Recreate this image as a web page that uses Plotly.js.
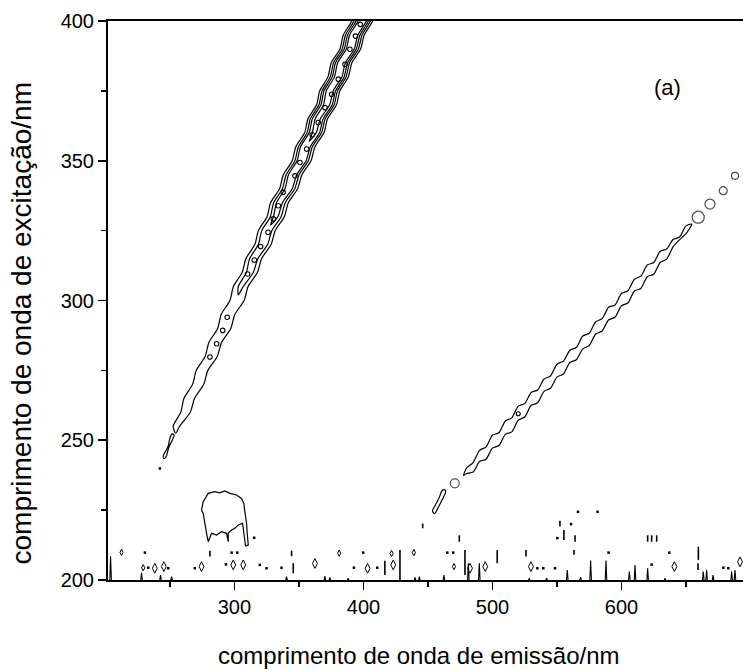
<!DOCTYPE html>
<html><head><meta charset="utf-8">
<script src="https://cdn.plot.ly/plotly-3.0.1.min.js"></script>
<style>html,body{margin:0;padding:0;background:#fff}</style>
</head><body>
<div id="chart" style="width:743px;height:670px"></div>
<script>
// ---------- Band 1: first-order scatter ridge (nested contour levels) ----------
const band1Y      = [255,260,265,270,275,280,285,290,295,300,305,310,315,320,325,330,335,340,345,350,355,360,365,370,375,380,385,390,395,400,405];
const band1Center = [256,261,266,271,276,281,286,291,296,301,306,311,316,321,326,331,336,341,346,351,356,361,365.6,370.3,374.9,379.5,384.1,388.8,393.4,398,402.6];
const band1Wave   = [-1.0,1.1,-1.0,0.9,-1.1,1.0,-0.9,1.1,-1.0,1.0,-1.1,0.9,-1.0,1.1,-0.9,1.0,-1.1,1.0,-0.9,1.1,-1.0,0.9,-1.0,1.1,-1.0,0.9,-1.1,1.0,-0.9,1.0,-1.0];
const band1HalfL1 = [2.5,3.7,4.1,4.3,4.5,4.7,4.9,5.1,5.3,5.5,5.7,5.9,6.1,6.3,6.5,6.7,6.9,7.0,7.2,7.3,7.4,7.5,7.6,7.7,7.8,7.9,8.0,8.0,8.1,8.1,8.1];
const band1HalfL2 = [null,null,null,null,null,null,null,null,null,null,1.9,2.7,3.2,3.6,3.9,4.2,4.5,4.8,5.0,5.2,5.4,5.6,5.8,5.9,6.0,6.1,6.2,6.3,6.4,6.4,6.4];
const band1HalfL3 = [null,null,null,null,null,null,null,null,null,null,null,null,null,null,null,1.7,2.3,2.8,3.2,3.5,3.8,4.0,4.2,4.4,4.5,4.6,4.7,4.7,4.8,4.8,4.8];
const band1HalfL4 = [null,null,null,null,null,null,null,null,null,null,null,null,null,null,null,null,null,null,null,null,null,1.5,2.0,2.4,2.7,2.9,3.0,3.1,3.2,3.2,3.2];
const band1TipX   = [254.5, 303, 328, 358];
const band1TipY   = [252.5, 302, 327, 357];
const band1EllX   = [281.0,286.2,290.9,294.4,310.2,315.4,320.3,326.0,330.1,334.0,337.8,346.9,350.8,356.0,360.3,365.0,370.2,375.3,380.5,385.7,389.5,393.8,397.5];
const band1EllY   = [279.8,284.5,289.3,294.0,309.5,314.5,319.3,324.4,329.2,333.9,338.7,344.6,349.4,354.2,359.3,363.7,369.0,373.8,379.2,384.5,389.9,394.6,398.8];
const band1LoopX  = [245.2,246.8,248.6,249.6,251.8,253.2,251.5,249.8,248.8,247.3,245.0,245.2];
const band1LoopY  = [243.5,243.9,246.6,248.0,250.0,251.9,252.3,250.4,248.1,246.6,244.6,243.5];
const band1DotX   = [242.2];
const band1DotY   = [239.9];

// ---------- Band 2: second-order scatter ridge ----------
const band2X      = [480,485,490,495,500,505,510,515,520,525,530,535,540,545,550,555,560,565,570,575,580,585,590,595,600,605,610,615,620,625,630,635,640,645,650];
const band2Center = [238.5,241.1,243.6,246.1,248.7,251.2,253.8,256.3,258.9,261.4,264.0,266.5,269.0,271.6,274.1,276.7,279.2,281.8,284.3,286.9,289.4,292.0,294.5,297.0,299.6,302.1,304.7,307.2,309.8,312.3,314.9,317.4,320.0,322.5,325.0];
const band2Half   = [1.0,1.7,2.0,2.2,2.3,2.3,2.4,2.5,2.5,2.4,2.3,2.3,2.2,2.2,2.3,2.3,2.2,2.2,2.3,2.2,2.2,2.2,2.3,2.2,2.2,2.2,2.1,2.2,2.1,2.1,2.0,1.8,1.3,0.5,1.4];
const band2Wave   = [0.6,-0.8,0.8,-0.7,0.8,-0.8,0.7,-0.8,0.8,-0.7,0.8,-0.8,0.7,-0.8,0.8,-0.7,0.8,-0.8,0.7,-0.8,0.8,-0.7,0.8,-0.8,0.7,-0.8,0.8,-0.7,0.8,-0.8,0.7,-0.8,0.5,-0.3,0.3];
const band2TipX   = [477.6, 654.5];
const band2TipY   = [237.4, 327.3];
const band2CircX  = [470.8, 659.5, 668.6, 678.9, 688.0];
const band2CircY  = [234.6, 329.8, 334.5, 339.3, 344.6];
const band2InnerX = [520.0];
const band2InnerY = [259.5];
const dropX       = [453.6,455.2,458.2,461.5,463.6,463.0,461.0,458.8,456.0,453.8,453.6];
const dropY       = [224.4,223.8,226.2,229.2,231.3,232.3,232.0,229.6,227.0,225.2,224.4];

// ---------- Blob near (290, 222) ----------
const blobX = [274.5,275.8,279.7,284.8,288.7,292.6,296.5,301.6,305.5,307.3,308.1,309.4,309.9,310.7,308.6,307.6,306.3,303.0,300.4,297.8,295.2,295.2,293.9,290.0,286.1,282.3,280.5,279.7,278.4,277.1,275.8,274.5];
const blobY = [225.0,228.0,231.0,231.6,231.2,231.9,231.0,230.4,229.2,227.4,224.4,220.3,216.7,212.5,212.2,216.1,220.3,219.7,218.5,217.9,216.7,213.7,216.7,217.3,216.1,216.7,214.9,213.7,216.7,220.3,223.8,225.0];

// ---------- Noise near the excitation floor ----------
const noiseTallX  = [238.3,245.3,274.5,299.1,306.8,362.4,403.2,423.1,482.6,494.4,529.8,641.0,691.9];
const noiseTallY  = [204.2,204.8,204.8,205.4,205.4,205.9,204.2,205.4,204.2,204.8,204.8,204.8,206.5];
const noiseSmallX = [212.5,229.3,381.2,421.8,439.1,470.2];
const noiseSmallY = [209.9,204.4,209.6,209.5,209.8,204.8];
const noiseDotX   = [230.6,233.2,248.7,269.3,297.8,302.2,293.4,315.3,319.7,324.9,336.5,392.6,399.8,410.7,465.0,469.6,534.8,539.4,548.5,560.9,566.3,581.5,550.3,590.0,623.4,637.1,679.0,682.8];
const noiseDotY   = [209.8,204.4,204.2,204.2,209.8,209.8,205.6,215.1,205.4,204.2,204.4,204.4,209.8,204.4,209.8,209.8,204.2,204.2,204.2,220.0,224.4,224.4,215.0,209.8,205.5,209.8,204.4,204.2];
const dashX       = [281.0,344.3,345.6,416.6,428.3,445.9,474.3,478.7,503.7,526.0,552.3,555.4,564.0,563.2,620.3,623.4,627.3,659.6,659.3];
const dashLow     = [208.4,208.5,202.4,201.8,200.0,218.5,213.7,201.8,206.0,208.4,219.1,214.3,213.7,209.0,213.7,213.7,213.7,207.2,203.6];
const dashHigh    = [210.5,210.5,206.0,206.9,210.7,220.2,216.0,210.7,210.7,210.7,221.2,217.9,216.0,210.7,216.0,216.0,216.0,211.9,206.0];
const spikeX      = [204.0,228.0,242.7,251.3,340.4,370.1,374.0,388.2,440.0,443.3,462.4,481.3,489.8,528.5,542.0,558.0,568.3,576.1,588.0,606.1,610.5,620.3,633.7,663.4,666.0,671.0,685.4,688.0];
const spikeH      = [8.5,2.6,1.8,1.2,1.2,1.4,0.9,0.6,0.9,1.2,1.8,6.0,6.0,0.6,0.6,3.6,1.0,7.0,7.0,3.0,5.4,4.2,0.6,3.0,3.6,1.8,3.0,3.6];

// ---------- build traces ----------
const LINE = {color:'#000', width:1.2, shape:'spline', smoothing:0.7};
const traces = [];

function band1Level(half, tipX, tipY) {
  const xs = [], ys = [];
  for (let i = band1Y.length - 1; i >= 0; i--) {
    if (half[i] == null) continue;
    xs.push(band1Center[i] - half[i] + band1Wave[i]); ys.push(band1Y[i]);
  }
  xs.push(tipX); ys.push(tipY);
  for (let i = 0; i < band1Y.length; i++) {
    if (half[i] == null) continue;
    xs.push(band1Center[i] + half[i] + band1Wave[i]); ys.push(band1Y[i]);
  }
  return {type:'scatter', mode:'lines', x:xs, y:ys, line:LINE, hoverinfo:'skip'};
}
[band1HalfL1, band1HalfL2, band1HalfL3, band1HalfL4].forEach((h, k) =>
  traces.push(band1Level(h, band1TipX[k], band1TipY[k])));

traces.push({type:'scatter', mode:'markers', x:band1EllX, y:band1EllY,
  marker:{symbol:'circle-open', size:4.5, color:'#000', line:{width:1.1}}});
traces.push({type:'scatter', mode:'lines', x:band1LoopX, y:band1LoopY, line:LINE});
traces.push({type:'scatter', mode:'markers', x:band1DotX, y:band1DotY,
  marker:{symbol:'square', size:2.5, color:'#000'}});

// band 2 closed contour
(function(){
  const xs = [band2TipX[0]], ys = [band2TipY[0]];
  for (let i = 0; i < band2X.length; i++) { xs.push(band2X[i]); ys.push(band2Center[i] - band2Half[i] + band2Wave[i]); }
  xs.push(band2TipX[1]); ys.push(band2TipY[1]);
  for (let i = band2X.length - 1; i >= 0; i--) { xs.push(band2X[i]); ys.push(band2Center[i] + band2Half[i] + band2Wave[i]); }
  xs.push(band2TipX[0]); ys.push(band2TipY[0]);
  traces.push({type:'scatter', mode:'lines', x:xs, y:ys, line:LINE});
})();
traces.push({type:'scatter', mode:'markers', x:band2CircX, y:band2CircY,
  marker:{symbol:'circle-open', size:[9,12,10,8,7], color:'#000', line:{width:1.2}}});
traces.push({type:'scatter', mode:'markers', x:band2InnerX, y:band2InnerY,
  marker:{symbol:'circle-open', size:4, color:'#000', line:{width:1.1}}});
traces.push({type:'scatter', mode:'lines', x:dropX, y:dropY, line:LINE});

// blob
traces.push({type:'scatter', mode:'lines', x:blobX, y:blobY, line:{color:'#000', width:1.2}});

// noise
traces.push({type:'scatter', mode:'markers', x:noiseTallX, y:noiseTallY,
  marker:{symbol:'diamond-tall-open', size:7, color:'#000', line:{width:1}}});
traces.push({type:'scatter', mode:'markers', x:noiseSmallX, y:noiseSmallY,
  marker:{symbol:'diamond-tall-open', size:4.5, color:'#000', line:{width:1}}});
traces.push({type:'scatter', mode:'markers', x:noiseDotX, y:noiseDotY,
  marker:{symbol:'square', size:2.5, color:'#000'}});
(function(){
  const xs = [], ys = [];
  dashX.forEach((x, i) => { xs.push(x, x, null); ys.push(dashLow[i], dashHigh[i], null); });
  traces.push({type:'scatter', mode:'lines', x:xs, y:ys, line:{color:'#000', width:1.6}});
  const sx = [], sy = [];
  spikeX.forEach((x, i) => { sx.push(x - 0.6, x, x + 0.6, null); sy.push(200, 200 + spikeH[i], 200, null); });
  traces.push({type:'scatter', mode:'lines', x:sx, y:sy, line:{color:'#000', width:1.1}});
})();

const FONT = 'Liberation Sans, Arial, Helvetica, sans-serif';
const layout = {
  width:743, height:670,
  margin:{l:108, r:0, t:21, b:90},
  paper_bgcolor:'#fff', plot_bgcolor:'#fff',
  showlegend:false,
  font:{family:FONT, color:'#000'},
  xaxis:{
    range:[202, 694.2], showgrid:false, zeroline:false,
    showline:true, linecolor:'#000', linewidth:2, mirror:true,
    ticks:'outside', ticklen:8, tickwidth:1.6, tickcolor:'#000',
    tickmode:'linear', tick0:200, dtick:100,
    minor:{ticks:'outside', dtick:50, tick0:200, ticklen:5, tickwidth:1.6, tickcolor:'#000', showgrid:false},
    tickfont:{family:FONT, size:20, color:'#000'}
  },
  yaxis:{
    range:[200, 400], showgrid:false, zeroline:false,
    showline:true, linecolor:'#000', linewidth:2, mirror:false,
    ticks:'outside', ticklen:8, tickwidth:1.6, tickcolor:'#000',
    tickmode:'linear', tick0:200, dtick:50,
    minor:{ticks:'outside', dtick:25, tick0:200, ticklen:5, tickwidth:1.6, tickcolor:'#000', showgrid:false},
    tickfont:{family:FONT, size:20, color:'#000'}
  },
  annotations:[
    {text:'(a)', xref:'paper', yref:'paper', x:0.881, y:0.881, xanchor:'center', yanchor:'middle', showarrow:false,
     font:{family:FONT, size:22, color:'#000'}},
    {text:'comprimento de onda de emissão/nm', xref:'paper', yref:'paper', x:0.49, y:-0.135,
     xanchor:'center', yanchor:'middle', showarrow:false, font:{family:FONT, size:24, color:'#000'}},
    {text:'comprimento de onda de excitação/nm', xref:'paper', yref:'paper', x:-0.136, y:0.46,
     xanchor:'center', yanchor:'middle', textangle:-90, showarrow:false, font:{family:FONT, size:28, color:'#000'}}
  ]
};
Plotly.newPlot('chart', traces, layout, {staticPlot:true, displayModeBar:false});
</script>
</body></html>
